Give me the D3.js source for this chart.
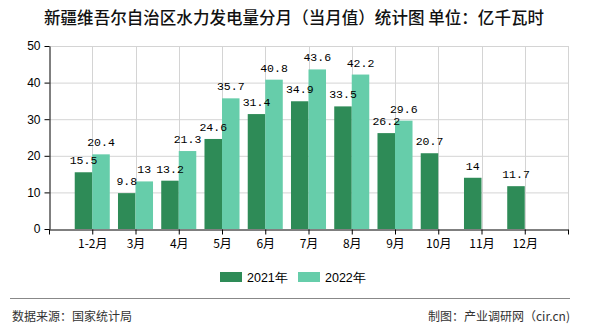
<!DOCTYPE html>
<html><head><meta charset="utf-8">
<script src="https://cdn.jsdelivr.net/npm/d3@7"></script>
<style>body{margin:0;background:#fff}svg{display:block}</style>
</head><body><svg id="c" width="590" height="330"></svg>
<script>
const categories = ["1-2月","3月","4月","5月","6月","7月","8月","9月","10月","11月","12月"];
const series2021 = [15.5,9.8,13.2,24.6,31.4,34.9,33.5,26.2,20.7,14,11.7];
const series2022 = [20.4,13,21.3,35.7,40.8,43.6,42.2,29.6,null,null,null];
const seriesNames = ["2021年","2022年"];
const colors = ["#2e8b57","#66cdaa"];
const yTicks = [0,10,20,30,40,50];

const svg = d3.select("#c");
const cjk = "'Noto Sans CJK SC', 'Noto Sans', sans-serif";
const L=49,R=568,T=46,B=229;
const x = d3.scaleLinear().domain([0,categories.length+1]).range([L,R]);
const y = d3.scaleLinear().domain([0,50]).range([B,T]);
const bw = (x(1)-x(0))*0.405;

// title
svg.append("text").attr("x",294).attr("y",24).attr("text-anchor","middle")
  .attr("font-family",cjk).attr("font-weight",500).attr("font-size",16.5).attr("fill","#111")
  .attr("textLength",500).attr("lengthAdjust","spacing")
  .text("新疆维吾尔自治区水力发电量分月（当月值）统计图 单位：亿千瓦时");

// grid
const g = svg.append("g");
g.selectAll(".hg").data(yTicks.filter(d=>d>0)).join("line")
  .attr("x1",L).attr("x2",R).attr("y1",d=>y(d)+0.5).attr("y2",d=>y(d)+0.5)
  .attr("stroke","#d4d4d4");
g.selectAll(".vg").data(d3.range(1,categories.length+2)).join("line")
  .attr("x1",d=>Math.round(x(d))+0.5).attr("x2",d=>Math.round(x(d))+0.5).attr("y1",T).attr("y2",B)
  .attr("stroke","#d4d4d4");

// bars
const sets=[series2021,series2022];
const barLayer = svg.append("g"), labelLayer = svg.append("g");
sets.forEach((s,k)=>{
  const data = s.map((v,i)=>({v,i})).filter(d=>d.v!=null);
  barLayer.append("g").selectAll("rect").data(data).join("rect")
    .attr("x",d=>x(d.i+1)-(k===0?bw:0)).attr("width",bw)
    .attr("y",d=>y(d.v)).attr("height",d=>y(0)-y(d.v)).attr("fill",colors[k]);
  labelLayer.append("g").selectAll("text").data(data).join("text")
    .attr("x",d=>x(d.i+1)+(k===0?-bw/2:bw/2)).attr("y",d=>y(d.v)-8)
    .attr("text-anchor","middle").attr("font-family","'Liberation Mono', monospace")
    .attr("font-size",11.5).attr("fill","#000").text(d=>d.v);
});

// axes
const ya = svg.append("g").attr("transform",`translate(${L+0.5},0)`)
  .call(d3.axisLeft(y).tickValues(yTicks).tickSize(5).tickPadding(4).tickSizeOuter(0));
ya.select(".domain").attr("stroke","#000");
ya.selectAll("line").attr("stroke","#000");
ya.selectAll("text").attr("font-family","'Liberation Sans', sans-serif").attr("font-size",12).attr("fill","#000");

const xa = svg.append("g").attr("transform",`translate(0,${B+0.5})`)
  .call(d3.axisBottom(x).tickValues(d3.range(0,categories.length+2)).tickSize(5).tickSizeOuter(0)
    .tickFormat(d=> (d>=1 && d<=categories.length)? categories[d-1] : ""));
xa.select(".domain").attr("stroke","#000");
xa.selectAll("line").attr("stroke","#000");
xa.selectAll("text").attr("font-family",cjk).attr("font-size",12).attr("fill","#000").attr("dy","0.9em");

// legend
const lg = svg.append("g");
const lx=[220,298];
seriesNames.forEach((n,k)=>{
  lg.append("rect").attr("x",lx[k]).attr("y",272).attr("width",22).attr("height",10).attr("fill",colors[k]);
  lg.append("text").attr("x",lx[k]+27).attr("y",282).attr("font-family","'Liberation Sans', sans-serif").attr("font-size",12.5).attr("fill","#000").text(n);
});

// footer
svg.append("line").attr("x1",10).attr("x2",570).attr("y1",298.5).attr("y2",298.5).attr("stroke","#888").attr("stroke-width",1.2);
svg.append("text").attr("x",12).attr("y",321).attr("font-family",cjk).attr("font-size",12).attr("fill","#333").text("数据来源：国家统计局");
svg.append("text").attr("x",570).attr("y",321).attr("text-anchor","end").attr("font-family",cjk).attr("font-size",12).attr("fill","#333").text("制图：产业调研网（cir.cn)");
</script></body></html>
